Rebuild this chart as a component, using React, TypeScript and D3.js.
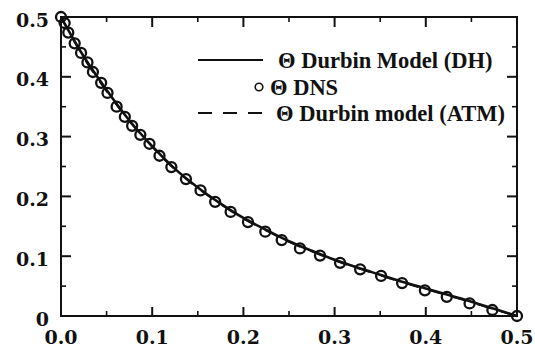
import React from "react";
import * as d3 from "d3";

const dnsX = [0.0, 0.004, 0.008, 0.015, 0.022, 0.029, 0.035, 0.044, 0.051, 0.061, 0.07, 0.078, 0.087, 0.097, 0.108, 0.121, 0.137, 0.153, 0.169, 0.186, 0.205, 0.224, 0.242, 0.262, 0.284, 0.306, 0.328, 0.351, 0.374, 0.399, 0.423, 0.448, 0.473, 0.5];
const dnsY = [0.5, 0.49, 0.474, 0.456, 0.44, 0.424, 0.408, 0.39, 0.373, 0.35, 0.333, 0.318, 0.303, 0.288, 0.268, 0.249, 0.229, 0.21, 0.191, 0.174, 0.157, 0.141, 0.127, 0.113, 0.101, 0.089, 0.078, 0.067, 0.055, 0.043, 0.032, 0.021, 0.01, 0.0];

const modelX = [0, 0.025, 0.05, 0.075, 0.1, 0.125, 0.15, 0.175, 0.2, 0.225, 0.25, 0.275, 0.3, 0.325, 0.35, 0.375, 0.4, 0.425, 0.45, 0.475, 0.5];
const dhY = [0.5, 0.434, 0.378, 0.327, 0.284, 0.246, 0.215, 0.188, 0.164, 0.144, 0.125, 0.109, 0.094, 0.081, 0.069, 0.057, 0.046, 0.035, 0.024, 0.012, 0.0];
const atmY = [0.5, 0.432, 0.376, 0.326, 0.283, 0.245, 0.214, 0.187, 0.163, 0.143, 0.124, 0.108, 0.093, 0.08, 0.068, 0.056, 0.045, 0.034, 0.023, 0.011, 0.0];

const xTickLabels = ["0.0", "0.1", "0.2", "0.3", "0.4", "0.5"];
const yTickLabels = ["0", "0.1", "0.2", "0.3", "0.4", "0.5"];
const legendLabels = ["\u0398 Durbin Model (DH)", "\u0398 DNS", "\u0398 Durbin model (ATM)"];

export default function App() {
  const x = d3.scaleLinear().domain([0, 0.5]).range([61, 517]);
  const y = d3.scaleLinear().domain([0, 0.5]).range([316, 17]);
  const line = d3
    .line<number>()
    .x((_, i) => x(modelX[i]))
    .y((d) => y(d))
    .curve(d3.curveMonotoneX);

  const majors = d3.range(0, 0.5001, 0.1);
  const minors = d3.range(0.05, 0.5, 0.1);
  const ink = "#111";
  const labelFont = "'DejaVu Serif', serif";
  const legendFont = "'Liberation Serif', 'Times New Roman', serif";

  return (
    <svg
      width={535}
      height={350}
      style={{ position: "absolute", left: 0, top: 0, background: "#fff" }}
    >
      <rect x={0} y={0} width={535} height={350} fill="#fff" />
      {/* frame */}
      <rect
        x={x(0)}
        y={y(0.5)}
        width={x(0.5) - x(0)}
        height={y(0) - y(0.5)}
        fill="none"
        stroke={ink}
        strokeWidth={2}
      />
      {/* ticks */}
      {majors.map((v, i) => (
        <g key={"mx" + i} stroke={ink} strokeWidth={2}>
          <line x1={x(v)} x2={x(v)} y1={y(0)} y2={y(0) - 9} />
          <line x1={x(v)} x2={x(v)} y1={y(0.5)} y2={y(0.5) + 10} />
          <line x1={x(0)} x2={x(0) + 10} y1={y(v)} y2={y(v)} />
          <line x1={x(0.5)} x2={x(0.5) - 10} y1={y(v)} y2={y(v)} />
        </g>
      ))}
      {minors.map((v, i) => (
        <g key={"mn" + i} stroke={ink} strokeWidth={1.6}>
          <line x1={x(v)} x2={x(v)} y1={y(0)} y2={y(0) - 5} />
          <line x1={x(v)} x2={x(v)} y1={y(0.5)} y2={y(0.5) + 5} />
          <line x1={x(0)} x2={x(0) + 5} y1={y(v)} y2={y(v)} />
          <line x1={x(0.5)} x2={x(0.5) - 5} y1={y(v)} y2={y(v)} />
        </g>
      ))}
      {/* tick labels */}
      {xTickLabels.map((t, i) => (
        <text
          key={"xl" + i}
          x={x(majors[i])}
          y={343.5}
          textAnchor="middle"
          fontFamily={labelFont}
          fontWeight="bold"
          fontSize={19}
          fill={ink}
        >
          {t}
        </text>
      ))}
      {yTickLabels.map((t, i) => (
        <text
          key={"yl" + i}
          x={49}
          y={y(majors[i]) + 9.5}
          textAnchor="end"
          fontFamily={labelFont}
          fontWeight="bold"
          fontSize={19}
          fill={ink}
        >
          {t}
        </text>
      ))}
      {/* model lines */}
      <path d={line(dhY) || ""} fill="none" stroke={ink} strokeWidth={2.6} />
      <path
        d={line(atmY) || ""}
        fill="none"
        stroke={ink}
        strokeWidth={2}
        strokeDasharray="14 11"
      />
      {/* DNS circles */}
      {dnsY.map((v, i) => (
        <circle
          key={"c" + i}
          cx={x(dnsX[i])}
          cy={y(v)}
          r={5}
          fill="none"
          stroke={ink}
          strokeWidth={2.3}
        />
      ))}
      {/* legend */}
      <line x1={198} x2={263} y1={60} y2={60} stroke={ink} strokeWidth={1.8} />
      <circle cx={259} cy={87} r={3.8} fill="none" stroke={ink} strokeWidth={1.6} />
      <line
        x1={198}
        x2={263}
        y1={113}
        y2={113}
        stroke={ink}
        strokeWidth={2}
        strokeDasharray="14 11"
      />
      {legendLabels.map((t, i) => (
        <text
          key={"lg" + i}
          x={[278, 270, 276][i]}
          y={[68, 94.5, 121][i]}
          fontFamily={legendFont}
          fontWeight="bold"
          fontSize={22.5}
          fill={ink}
        >
          {t}
        </text>
      ))}
    </svg>
  );
}
